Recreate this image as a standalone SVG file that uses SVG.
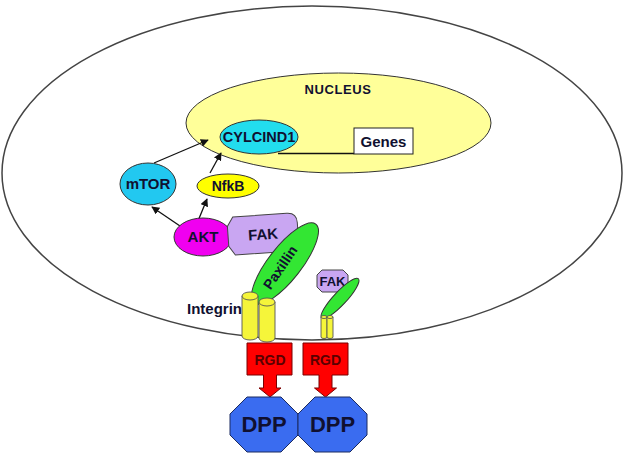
<svg xmlns="http://www.w3.org/2000/svg" width="630" height="455" viewBox="0 0 630 455">
<style>
text{font-family:"Liberation Sans",Arial,sans-serif;font-weight:bold;text-anchor:middle;fill:#101030}
.ln{stroke:#111;stroke-width:1.3;fill:none}
.ol{stroke:#333;stroke-width:1}
.cyl{fill:#F5F53A;stroke:#555;stroke-width:0.9}
.grn{fill:#33E633;stroke:#333;stroke-width:1}
.fak{fill:#C9A6F2;stroke:#444;stroke-width:1}
.rgd{fill:#FF0000;stroke:#7a0000;stroke-width:1}
.dpp{fill:#3A6CF0;stroke:#1a2a60;stroke-width:1}
</style>
<defs>
<marker id="ah" viewBox="0 0 10 10" refX="9" refY="5" markerWidth="8" markerHeight="8" markerUnits="userSpaceOnUse" orient="auto">
<path d="M0,0 L10,5 L0,10 Z" fill="#111"/>
</marker>
</defs>
<rect width="630" height="455" fill="#fff"/>
<g id="cell"><ellipse cx="312" cy="173" rx="310" ry="167" fill="none" stroke="#444" stroke-width="1.5"/></g>
<g id="nucleus"><ellipse cx="338.5" cy="123" rx="152.5" ry="50" fill="#FFFF99" stroke="#333" stroke-width="1"/><text x="338" y="93.5" font-size="13" letter-spacing="0.6">NUCLEUS</text></g>
<g id="connectors">
<line class="ln" x1="278" y1="153.5" x2="354" y2="153.5"/>
<line class="ln" x1="154" y1="163" x2="208" y2="140" marker-end="url(#ah)"/>
<line class="ln" x1="210" y1="173" x2="221" y2="153" marker-end="url(#ah)"/>
<line class="ln" x1="180" y1="226" x2="152" y2="207" marker-end="url(#ah)"/>
<line class="ln" x1="198" y1="221" x2="207" y2="199" marker-end="url(#ah)"/>
</g>
<g id="cyclind1"><ellipse cx="259" cy="137" rx="39" ry="17" fill="#22DDEE" class="ol"/><text x="259" y="142" font-size="14.5">CYLCIND1</text></g>
<g id="genes"><rect x="354" y="128" width="59" height="26" fill="#fff" stroke="#222" stroke-width="1"/><text x="383.5" y="146.5" font-size="15">Genes</text></g>
<g id="mtor"><ellipse cx="148" cy="184" rx="28" ry="21" fill="#22C8F0" class="ol"/><text x="148" y="189" font-size="15">mTOR</text></g>
<g id="nfkb"><ellipse cx="228" cy="186" rx="31" ry="12" fill="#FFFF00" class="ol"/><text x="228" y="191" font-size="14">NfkB</text></g>
<g id="akt"><ellipse cx="203" cy="237" rx="29" ry="19" fill="#F000F0" class="ol"/><text x="203" y="242" font-size="15">AKT</text></g>
<g id="fak" transform="translate(263,234) rotate(-4)"><path class="fak" d="M-29,-19 L25,-19 Q35,-19 35,-9 L35,9 Q35,19 25,19 L-29,19 L-35,10 L-35,-10 Z"/><text x="0" y="5.5" font-size="15">FAK</text></g>
<g id="paxillin"><ellipse class="grn" cx="285" cy="263.5" rx="50" ry="16.5" transform="rotate(-52 285 263.5)"/><text x="281" y="272" font-size="14" transform="rotate(-56 281 268)">Paxillin</text></g>
<g id="integrin">
<text x="187" y="314" font-size="15" style="text-anchor:start">Integrin</text>
<path class="cyl" d="M242,296 L242,336 A8,4 0 0 0 258,336 L258,296 Z"/><ellipse class="cyl" cx="250" cy="296" rx="8" ry="4"/>
<path class="cyl" d="M259,302 L259,338 A8,4 0 0 0 275,338 L275,302 Z"/><ellipse class="cyl" cx="267" cy="302" rx="8" ry="4"/>
</g>
<g id="fak2"><path class="fak" d="M322,270 L343,270 L348,275 L348,287 L343,292 L322,292 L317,287 L317,275 Z"/><text x="332.5" y="285.5" font-size="13">FAK</text></g>
<g id="paxillin2"><ellipse class="grn" cx="340" cy="298.5" rx="27" ry="6.5" transform="rotate(-47 340 298.5)"/></g>
<g id="integrin2">
<path class="cyl" d="M321,317 L321,337 A3,1.5 0 0 0 327,337 L327,317 Z"/><ellipse class="cyl" cx="324" cy="317" rx="3" ry="1.5"/>
<path class="cyl" d="M327,317 L327,337 A3,1.5 0 0 0 333,337 L333,317 Z"/><ellipse class="cyl" cx="330" cy="317" rx="3" ry="1.5"/>
</g>
<g id="rgd1"><path class="rgd" d="M247,343 L292,343 L292,375 L276.5,375 L276.5,388 L281,388 L270,397 L259,388 L263.5,388 L263.5,375 L247,375 Z"/><text x="270" y="365" font-size="14" style="fill:#5a0000">RGD</text></g>
<g id="rgd2"><path class="rgd" d="M303,343 L348,343 L348,375 L332,375 L332,388 L336.5,388 L325.5,397 L314.5,388 L319,388 L319,375 L303,375 Z"/><text x="325.5" y="365" font-size="14" style="fill:#5a0000">RGD</text></g>
<g id="dpp1"><path class="dpp" d="M247,397 L281,397 L298,414 L298,435 L281,452 L247,452 L230,435 L230,414 Z"/><text x="264" y="432" font-size="22">DPP</text></g>
<g id="dpp2"><path class="dpp" d="M315,397 L350,397 L367,414 L367,435 L350,452 L315,452 L298,435 L298,414 Z"/><text x="332.5" y="432" font-size="22">DPP</text></g>
</svg>
